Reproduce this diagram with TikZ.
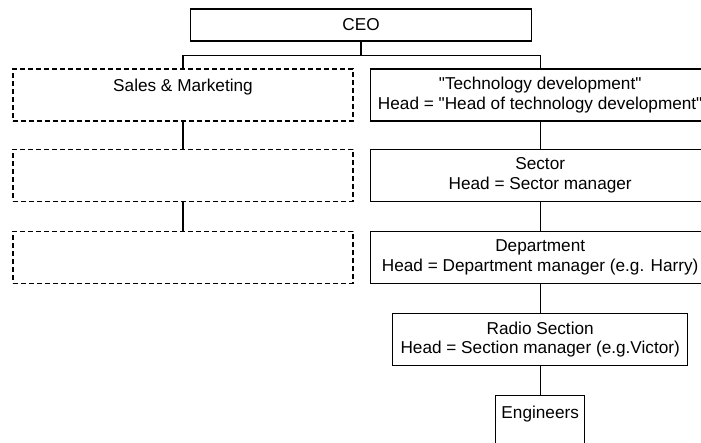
\documentclass[tikz,border=0pt]{standalone}
\usepackage{fontspec}
\setmainfont{Liberation Sans}
\usetikzlibrary{positioning}
\newcommand{\boxfont}{\fontsize{17.2}{19.5}\selectfont}
\newcommand{\q}{\textquotedbl}
\tikzset{
	unit/.style={draw, rectangle, line width=1.2pt, inner sep=0pt, align=center, minimum width=340pt, minimum height=52pt},
	vacant/.style={unit, dash pattern=on 5pt off 3pt}
}

\begin{document}
\begin{tikzpicture}[x=1pt, y=1pt, font=\boxfont, line width=1.2pt]
    \useasboundingbox (0, 0) rectangle (701, -443);
    \node[unit, minimum width=341pt, minimum height=32pt](ceo) at (361, -25) {CEO};
    \node[vacant](sales) at (183, -95) {Sales \& Marketing\\\mbox{}};
    \node[unit, right=16pt of sales](tech) {\q Technology development\q\\Head = \q Head of technology development\q};
    \node[vacant, below=27pt of sales](sales2) {};
    \node[vacant, below=29pt of sales2](sales3) {};
    \node[unit, below=27pt of tech](sector) {Sector\\Head = Sector manager};
    \node[unit, below=29pt of sector](dept) {Department\\Head = Department manager (e.g. Harry)};
    \node[unit, below=29pt of dept, minimum width=295pt](radio) {Radio Section\\Head = Section manager (e.g.Victor)};
    \node[unit, below=29pt of radio, minimum width=89pt](eng) {Engineers\\\mbox{}};
    \draw(ceo.south)--++(0, -14)coordinate(fork);
    \draw(fork)-|(sales.north);
    \draw(fork)-|(tech.north);
    \draw(sales.south)--(sales2.north);
    \draw(sales2.south)--(sales3.north);
    \draw(tech.south)--(sector.north);
    \draw(sector.south)--(dept.north);
    \draw(dept.south)--(radio.north);
    \draw(radio.south)--(eng.north);
\end{tikzpicture}
\end{document}
